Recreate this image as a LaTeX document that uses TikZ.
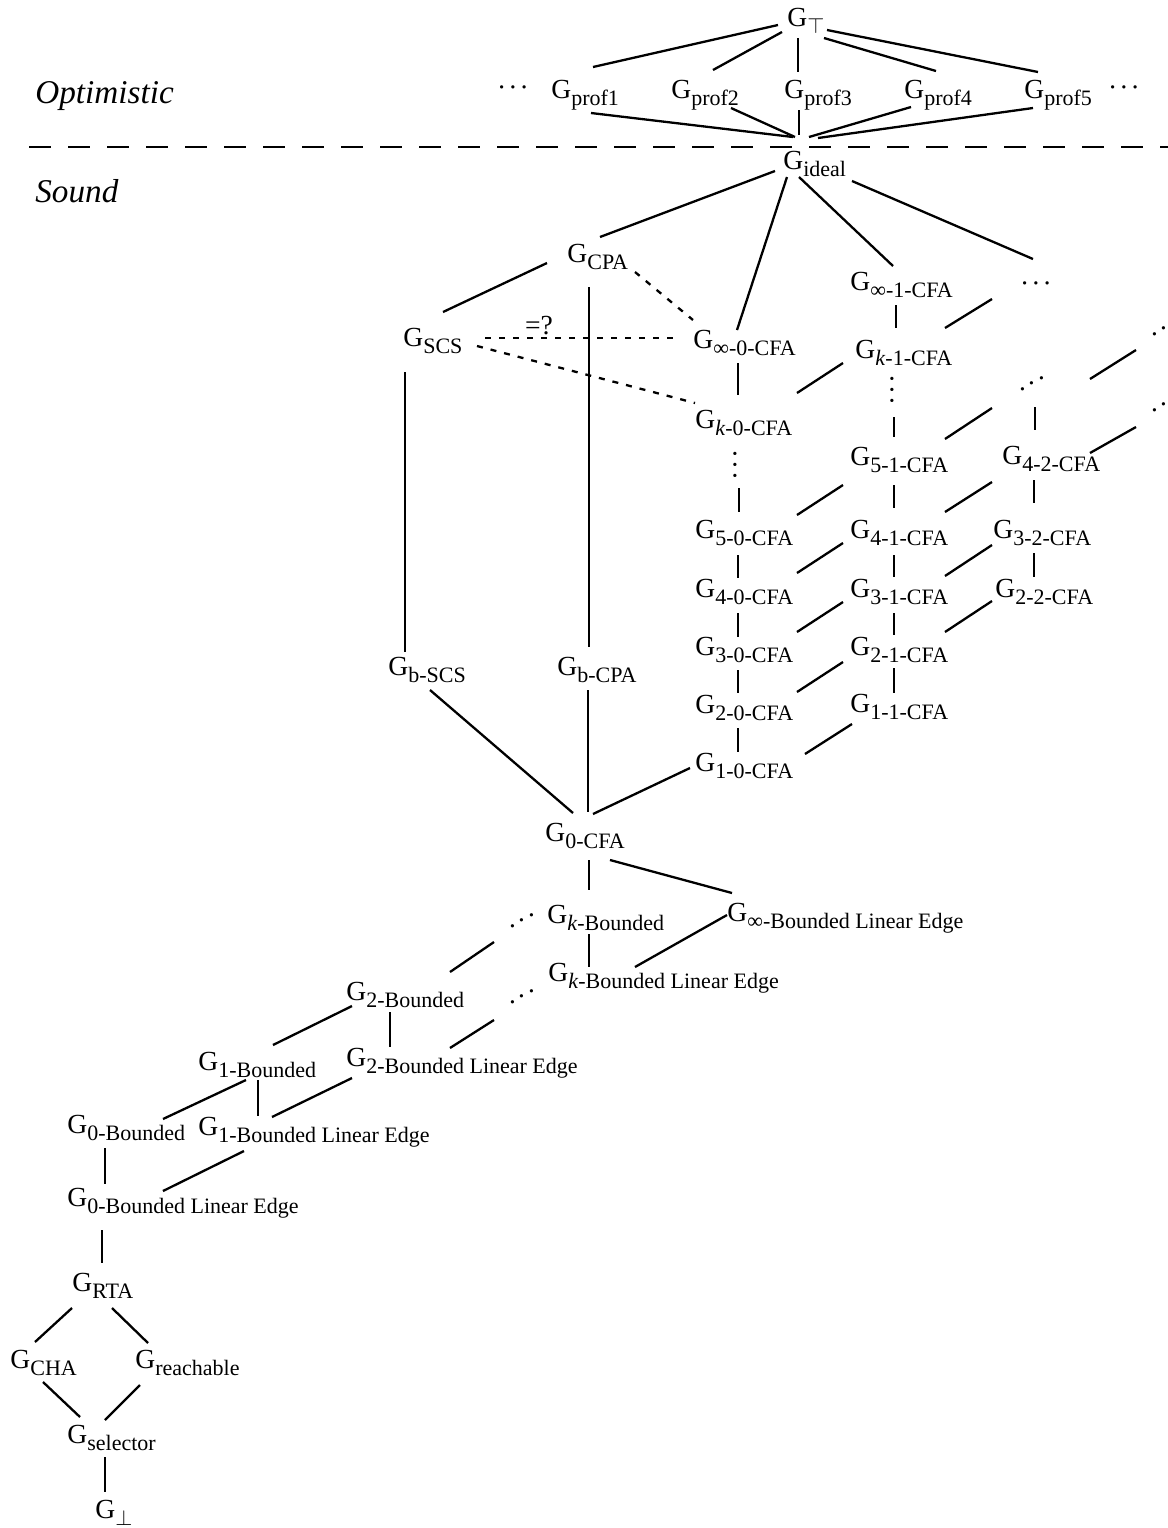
\documentclass[tikz,border=0pt]{standalone}
\usepackage{fontspec}
\setmainfont{Liberation Serif}
% subscript size and the G-with-subscript label macro
\newcommand{\sbfont}{\fontsize{11}{12}\selectfont}
\newcommand{\Gsb}[1]{G\lower3.5pt\hbox{\sbfont #1}}
\newcommand{\dotrow}{·\kern1pt·\kern1pt·}
\begin{document}
\begin{tikzpicture}[x=0.5pt,y=-0.5pt,
  every node/.style={font=\fontsize{13.8}{16}\selectfont},
  lbl/.style={anchor=base west,inner sep=0pt},
  region/.style={anchor=base west,inner sep=0pt,font=\fontsize{16.6}{18}\selectfont\itshape},
  dots/.style={anchor=center,inner sep=0pt},
  conn/.style={line width=1.15pt},
  dotconn/.style={conn,dash pattern=on 3pt off 4pt},
  sepline/.style={line width=1.4pt,dash pattern=on 11pt off 8.5pt}]
\useasboundingbox (0,0) rectangle (1168,1528);

% ---------- region labels and separator ----------
\node[region] (opt) at (35,103) {Optimistic};
\node[region] (snd) at (35,202) {Sound};
\draw[sepline] (29,147) -- (1168,147);

% ---------- top lattice ----------
\node[lbl] (gT) at (787,26) {\Gsb{$\top$}};
\node[dots] (ldots) at (513,91) {\dotrow};
\node[lbl] (p1) at (551,98) {\Gsb{prof1}};
\node[lbl] (p2) at (671,98) {\Gsb{prof2}};
\node[lbl] (p3) at (784,98) {\Gsb{prof3}};
\node[lbl] (p4) at (904,98) {\Gsb{prof4}};
\node[lbl] (p5) at (1024,98) {\Gsb{prof5}};
\node[dots] (rdots) at (1124,91) {\dotrow};
\node[lbl] (ideal) at (783,169) {\Gsb{ideal}};

% ---------- sound analyses ----------
\node[lbl] (cpa) at (567,262) {\Gsb{CPA}};
\node[lbl] (scs) at (403,346) {\Gsb{SCS}};
\node[dots] (eq) at (539,326) {=?};
\node[lbl] (inf0) at (693,348) {\Gsb{∞-0-CFA}};
\node[lbl] (k0) at (695,428) {\Gsb{\textit{k}-0-CFA}};
\node[lbl] (inf1) at (850,290) {\Gsb{∞-1-CFA}};
\node[lbl] (k1) at (855,358) {\Gsb{\textit{k}-1-CFA}};
\node[dots] (topdots) at (1036,287) {\dotrow};
\node[dots,rotate=90] (vd0) at (739,465) {\dotrow};
\node[dots,rotate=90] (vd1) at (896,390) {\dotrow};
\node[dots,rotate=30] (id2) at (1034,387) {\dotrow};
\node[dots,rotate=30] (idR1) at (1166,332) {\dotrow};
\node[dots,rotate=30] (idR2) at (1166,408) {\dotrow};

\node[lbl] (g51) at (850,465) {\Gsb{5-1-CFA}};
\node[lbl] (g42) at (1002,464) {\Gsb{4-2-CFA}};
\node[lbl] (g50) at (695,538) {\Gsb{5-0-CFA}};
\node[lbl] (g41) at (850,538) {\Gsb{4-1-CFA}};
\node[lbl] (g32) at (993,538) {\Gsb{3-2-CFA}};
\node[lbl] (g40) at (695,597) {\Gsb{4-0-CFA}};
\node[lbl] (g31) at (850,597) {\Gsb{3-1-CFA}};
\node[lbl] (g22) at (995,597) {\Gsb{2-2-CFA}};
\node[lbl] (g30) at (695,655) {\Gsb{3-0-CFA}};
\node[lbl] (g21) at (850,655) {\Gsb{2-1-CFA}};
\node[lbl] (g20) at (695,713) {\Gsb{2-0-CFA}};
\node[lbl] (g11) at (850,712) {\Gsb{1-1-CFA}};
\node[lbl] (g10) at (695,771) {\Gsb{1-0-CFA}};

\node[lbl] (bscs) at (388,675) {\Gsb{b-SCS}};
\node[lbl] (bcpa) at (557,675) {\Gsb{b-CPA}};
\node[lbl] (cfa0) at (545,841) {\Gsb{0-CFA}};

% ---------- bounded analyses ----------
\node[lbl] (kb) at (547,923) {\Gsb{\textit{k}-Bounded}};
\node[lbl] (infble) at (727,921) {\Gsb{∞-Bounded Linear Edge}};
\node[lbl] (kble) at (548,981) {\Gsb{\textit{k}-Bounded Linear Edge}};
\node[dots,rotate=30] (idB1) at (524,924) {\dotrow};
\node[dots,rotate=30] (idB2) at (524,1000) {\dotrow};
\node[lbl] (b2) at (346,1000) {\Gsb{2-Bounded}};
\node[lbl] (b2le) at (346,1066) {\Gsb{2-Bounded Linear Edge}};
\node[lbl] (b1) at (198,1070) {\Gsb{1-Bounded}};
\node[lbl] (b1le) at (198,1135) {\Gsb{1-Bounded Linear Edge}};
\node[lbl] (b0) at (67,1133) {\Gsb{0-Bounded}};
\node[lbl] (b0le) at (67,1206) {\Gsb{0-Bounded Linear Edge}};

% ---------- bottom ----------
\node[lbl] (rta) at (72,1291) {\Gsb{RTA}};
\node[lbl] (cha) at (10,1368) {\Gsb{CHA}};
\node[lbl] (reach) at (135,1368) {\Gsb{reachable}};
\node[lbl] (sel) at (67,1443) {\Gsb{selector}};
\node[lbl] (bot) at (95,1518) {\Gsb{$\perp$}};

% ---------- connectors: top ----------
\draw[conn] ([shift={(-9,-1)}]gT.base west) -- ([shift={(42,-31)}]p1.base west);
\draw[conn] ([shift={(-5,6)}]gT.base west) -- ([shift={(42,-28)}]p2.base west);
\draw[conn] ([shift={(11,12)}]gT.base west) -- ([shift={(14,-26)}]p3.base west);
\draw[conn] ([shift={(37,12)}]gT.base west) -- ([shift={(32,-27)}]p4.base west);
\draw[conn] ([shift={(40,4)}]gT.base west) -- ([shift={(14,-26)}]p5.base west);
\draw[conn] ([shift={(40,15)}]p1.base west) -- ([shift={(10,-32)}]ideal.base west);
\draw[conn] ([shift={(60,10)}]p2.base west) -- ([shift={(12,-32)}]ideal.base west);
\draw[conn] ([shift={(15,12)}]p3.base west) -- ([shift={(16,-34)}]ideal.base west);
\draw[conn] ([shift={(7,9)}]p4.base west) -- ([shift={(26,-32)}]ideal.base west);
\draw[conn] ([shift={(9,10)}]p5.base west) -- ([shift={(35,-31)}]ideal.base west);

% ---------- connectors: below the ideal ----------
\draw[conn] ([shift={(-8,2)}]ideal.base west) -- ([shift={(33,-25)}]cpa.base west);
\draw[conn] ([shift={(4,8)}]ideal.base west) -- ([shift={(44,-18)}]inf0.base west);
\draw[conn] ([shift={(16,8)}]ideal.base west) -- ([shift={(43,-24)}]inf1.base west);
\draw[conn] ([shift={(69,12)}]ideal.base west) -- ([shift={(-3,-28)}]topdots.center);
\draw[conn] ([shift={(-20,1)}]cpa.base west) -- ([shift={(40,-34)}]scs.base west);
\draw[conn] ([shift={(22,25)}]cpa.base west) -- ([shift={(32,-28)}]bcpa.base west);
\draw[conn] ([shift={(2,26)}]scs.base west) -- ([shift={(17,-23)}]bscs.base west);
\draw[dotconn] ([shift={(68,10)}]cpa.base west) -- ([shift={(0,-28)}]inf0.base west);
\draw[dotconn] ([shift={(82,-8)}]scs.base west) -- ([shift={(-15,-10)}]inf0.base west);
\draw[dotconn] ([shift={(74,0)}]scs.base west) -- ([shift={(0,-25)}]k0.base west);

% ---------- CFA grid: verticals ----------
\draw[conn] ([shift={(45,15)}]inf0.base west) -- ([shift={(43,-33)}]k0.base west);
\draw[conn] ([shift={(0,23)}]vd0.center) -- ([shift={(44,-26)}]g50.base west);
\draw[conn] ([shift={(43,17)}]g50.base west) -- ([shift={(43,-19)}]g40.base west);
\draw[conn] ([shift={(43,16)}]g40.base west) -- ([shift={(43,-18)}]g30.base west);
\draw[conn] ([shift={(43,15)}]g30.base west) -- ([shift={(43,-20)}]g20.base west);
\draw[conn] ([shift={(43,15)}]g20.base west) -- ([shift={(43,-19)}]g10.base west);
\draw[conn] ([shift={(46,15)}]inf1.base west) -- ([shift={(41,-30)}]k1.base west);
\draw[conn] ([shift={(-2,27)}]vd1.center) -- ([shift={(44,-28)}]g51.base west);
\draw[conn] ([shift={(44,20)}]g51.base west) -- ([shift={(44,-30)}]g41.base west);
\draw[conn] ([shift={(44,17)}]g41.base west) -- ([shift={(44,-20)}]g31.base west);
\draw[conn] ([shift={(44,16)}]g31.base west) -- ([shift={(44,-20)}]g21.base west);
\draw[conn] ([shift={(44,13)}]g21.base west) -- ([shift={(44,-19)}]g11.base west);
\draw[conn] ([shift={(1,20)}]id2.center) -- ([shift={(33,-34)}]g42.base west);
\draw[conn] ([shift={(32,16)}]g42.base west) -- ([shift={(41,-35)}]g32.base west);
\draw[conn] ([shift={(41,15)}]g32.base west) -- ([shift={(39,-20)}]g22.base west);

% ---------- CFA grid: diagonals ----------
\draw[conn] ([shift={(102,-35)}]k0.base west) -- ([shift={(-12,5)}]k1.base west);
\draw[conn] ([shift={(102,-23)}]g50.base west) -- ([shift={(-7,20)}]g51.base west);
\draw[conn] ([shift={(102,-24)}]g40.base west) -- ([shift={(-7,5)}]g41.base west);
\draw[conn] ([shift={(102,-23)}]g30.base west) -- ([shift={(-7,5)}]g31.base west);
\draw[conn] ([shift={(102,-21)}]g20.base west) -- ([shift={(-7,7)}]g21.base west);
\draw[conn] ([shift={(110,-17)}]g10.base west) -- ([shift={(2,12)}]g11.base west);
\draw[conn] ([shift={(90,-30)}]k1.base west) -- ([shift={(-44,12)}]topdots.center);
\draw[conn] ([shift={(95,-26)}]g51.base west) -- ([shift={(-42,21)}]id2.center);
\draw[conn] ([shift={(95,-26)}]g41.base west) -- ([shift={(-10,18)}]g42.base west);
\draw[conn] ([shift={(95,-21)}]g31.base west) -- ([shift={(-1,7)}]g32.base west);
\draw[conn] ([shift={(95,-23)}]g21.base west) -- ([shift={(-3,4)}]g22.base west);
\draw[conn] ([shift={(56,-8)}]id2.center) -- ([shift={(-30,18)}]idR1.center);
\draw[conn] ([shift={(88,-11)}]g42.base west) -- ([shift={(-30,19)}]idR2.center);

% ---------- towards 0-CFA ----------
\draw[conn] ([shift={(-5,-3)}]g10.base west) -- ([shift={(48,-27)}]cfa0.base west);
\draw[conn] ([shift={(31,15)}]bcpa.base west) -- ([shift={(43,-29)}]cfa0.base west);
\draw[conn] ([shift={(42,15)}]bscs.base west) -- ([shift={(28,-28)}]cfa0.base west);

% ---------- bounded chain ----------
\draw[conn] ([shift={(44,19)}]cfa0.base west) -- ([shift={(42,-33)}]kb.base west);
\draw[conn] ([shift={(65,19)}]cfa0.base west) -- ([shift={(5,-28)}]infble.base west);
\draw[conn] ([shift={(42,11)}]kb.base west) -- ([shift={(41,-14)}]kble.base west);
\draw[conn] ([shift={(0,-6)}]infble.base west) -- ([shift={(87,-14)}]kble.base west);
\draw[conn] ([shift={(104,-28)}]b2.base west) -- ([shift={(-30,18)}]idB1.center);
\draw[conn] ([shift={(104,-18)}]b2le.base west) -- ([shift={(-30,20)}]idB2.center);
\draw[conn] ([shift={(6,6)}]b2.base west) -- ([shift={(75,-25)}]b1.base west);
\draw[conn] ([shift={(44,12)}]b2.base west) -- ([shift={(44,-19)}]b2le.base west);
\draw[conn] ([shift={(48,10)}]b1.base west) -- ([shift={(96,-14)}]b0.base west);
\draw[conn] ([shift={(60,10)}]b1.base west) -- ([shift={(60,-19)}]b1le.base west);
\draw[conn] ([shift={(6,12)}]b2le.base west) -- ([shift={(74,-18)}]b1le.base west);
\draw[conn] ([shift={(38,15)}]b0.base west) -- ([shift={(38,-22)}]b0le.base west);
\draw[conn] ([shift={(46,16)}]b1le.base west) -- ([shift={(96,-15)}]b0le.base west);

% ---------- bottom diamond ----------
\draw[conn] ([shift={(35,24)}]b0le.base west) -- ([shift={(30,-28)}]rta.base west);
\draw[conn] ([shift={(0,17)}]rta.base west) -- ([shift={(25,-26)}]cha.base west);
\draw[conn] ([shift={(40,17)}]rta.base west) -- ([shift={(13,-25)}]reach.base west);
\draw[conn] ([shift={(33,14)}]cha.base west) -- ([shift={(13,-26)}]sel.base west);
\draw[conn] ([shift={(5,17)}]reach.base west) -- ([shift={(38,-23)}]sel.base west);
\draw[conn] ([shift={(38,14)}]sel.base west) -- ([shift={(10,-26)}]bot.base west);
\end{tikzpicture}
\end{document}
